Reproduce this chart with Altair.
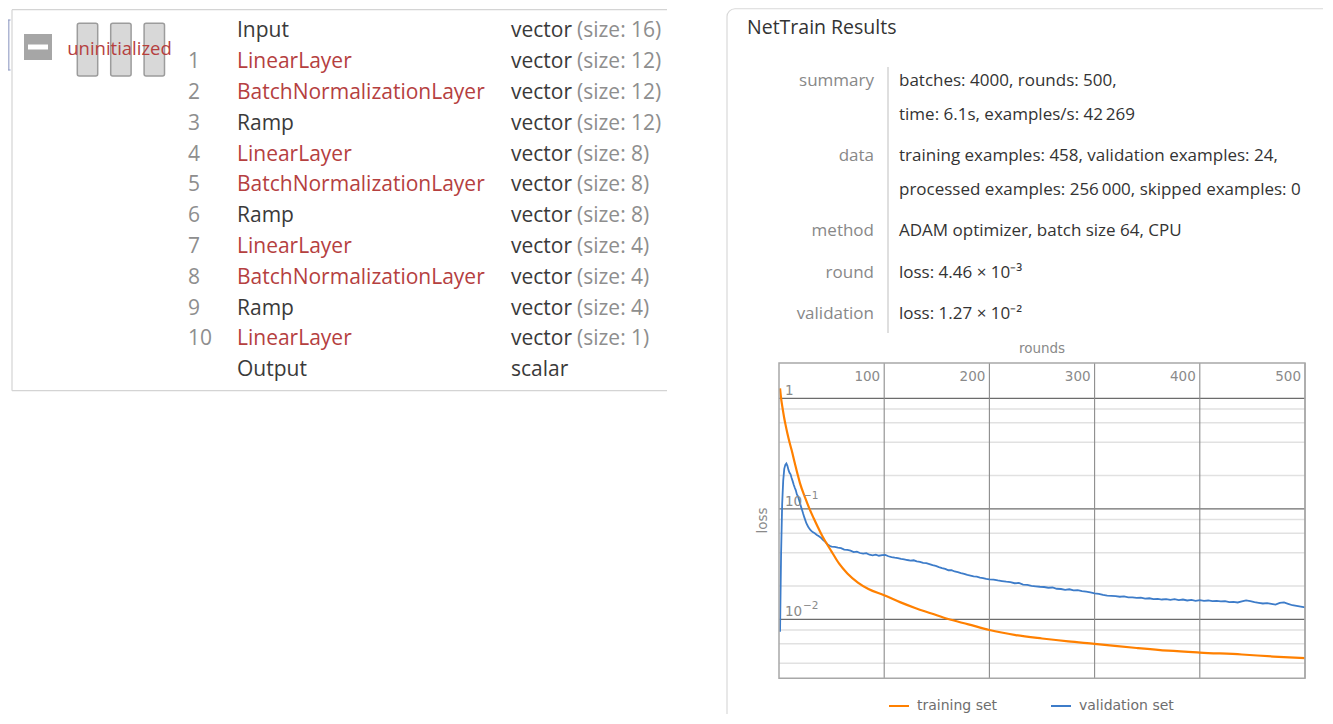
import altair as alt
import pandas as pd

# ---------------- NetChain table ----------------
row_numbers = ["", "1", "2", "3", "4", "5", "6", "7", "8", "9", "10", ""]
layer_names = ["Input", "LinearLayer", "BatchNormalizationLayer", "Ramp",
               "LinearLayer", "BatchNormalizationLayer", "Ramp",
               "LinearLayer", "BatchNormalizationLayer", "Ramp",
               "LinearLayer", "Output"]
port_types = ["vector"] * 11 + ["scalar"]
port_sizes = ["(size: 16)", "(size: 12)", "(size: 12)", "(size: 12)",
              "(size: 8)", "(size: 8)", "(size: 8)",
              "(size: 4)", "(size: 4)", "(size: 4)",
              "(size: 1)", ""]

# ---------------- NetTrain summary ----------------
panel_title = "NetTrain Results"
info_labels = ["summary", "data", "method", "round", "validation"]
info_first_line = [0, 2, 4, 5, 6]
info_lines = ["batches: 4000, rounds: 500,",
              "time: 6.1s, examples/s: 42\u2009269",
              "training examples: 458, validation examples: 24,",
              "processed examples: 256\u2009000, skipped examples: 0",
              "ADAM optimizer, batch size 64, CPU",
              "loss: 4.46 \u00d7 10\u207b\u00b3",
              "loss: 1.27 \u00d7 10\u207b\u00b2"]
info_line_group = [0, 0, 1, 1, 2, 3, 4]

# ---------------- loss curves ----------------
train_rounds = [1, 2, 3, 4, 5, 6, 8, 10, 12, 15, 18, 20, 25, 29, 33, 37, 41, 45,
                50, 57, 65, 75, 85, 100, 115, 130, 145, 160, 180, 200, 225, 250,
                275, 300, 340, 370, 400, 440, 470, 500]
train_loss = [1.23, 1.0, 0.86, 0.75, 0.66, 0.59, 0.48, 0.40, 0.34, 0.26, 0.20,
              0.17, 0.125, 0.10, 0.082, 0.068, 0.057, 0.049, 0.041, 0.032,
              0.026, 0.0215, 0.0188, 0.0165, 0.0143, 0.0126, 0.0113, 0.0101,
              0.0090, 0.0080, 0.0072, 0.0067, 0.0063, 0.0060, 0.0055, 0.0052,
              0.0050, 0.0048, 0.0046, 0.00446]

val_rounds = [1, 2, 3, 4, 5, 6, 7, 8, 9, 10, 11, 12, 13, 14, 15, 16, 17, 18, 19,
              20, 21, 22, 23, 24, 25, 26, 27, 28, 29, 30, 32, 34, 36, 38, 40,
              42, 44, 46, 48, 50, 53, 56, 59, 62, 65, 68, 71, 74, 77, 80, 83,
              86, 89, 92, 95, 98, 101, 104, 107, 110, 113, 116, 119, 122, 125,
              128, 131, 134, 137, 140, 143, 146, 149, 152, 155, 158, 161, 164,
              167, 170, 173, 176, 179, 182, 185, 188, 191, 194, 197, 200, 204,
              208, 212, 216, 220, 224, 228, 232, 236, 240, 244, 248, 252, 256,
              260, 264, 268, 272, 276, 280, 284, 288, 292, 296, 300, 304, 308,
              312, 316, 320, 324, 328, 332, 336, 340, 344, 348, 352, 356, 360,
              364, 368, 372, 376, 380, 384, 388, 392, 396, 400, 404, 408, 412,
              416, 420, 424, 428, 432, 436, 440, 444, 448, 452, 456, 460, 464,
              468, 472, 476, 480, 484, 488, 492, 496, 500]
val_loss = [0.0077, 0.04, 0.11, 0.18, 0.23, 0.25, 0.257, 0.245, 0.225, 0.212,
            0.205, 0.19, 0.178, 0.165, 0.155, 0.147, 0.135, 0.13, 0.121, 0.112,
            0.104, 0.097, 0.09, 0.084, 0.079, 0.074, 0.071, 0.068, 0.066, 0.064,
            0.0615, 0.060, 0.058, 0.0565, 0.0545, 0.052, 0.0502, 0.0478, 0.0463,
            0.0455, 0.0452, 0.0446, 0.0441, 0.0428, 0.0424, 0.0418, 0.0406,
            0.041, 0.0398, 0.0393, 0.0397, 0.0384, 0.0379, 0.0385, 0.0376,
            0.0381, 0.0383, 0.0372, 0.0366, 0.0361, 0.0357, 0.0352, 0.0349,
            0.0344, 0.034, 0.0342, 0.0334, 0.0331, 0.0324, 0.0322, 0.0316,
            0.0309, 0.0304, 0.0297, 0.0291, 0.0286, 0.0278, 0.0279, 0.0271,
            0.0267, 0.0262, 0.0258, 0.0252, 0.0249, 0.0245, 0.0243, 0.0238,
            0.0236, 0.0232, 0.023, 0.0229, 0.0225, 0.0222, 0.0219, 0.0217,
            0.0212, 0.0213, 0.0206, 0.0205, 0.0201, 0.0199, 0.0197, 0.0196,
            0.0193, 0.0194, 0.0189, 0.0188, 0.0185, 0.0187, 0.0183, 0.0184,
            0.018, 0.0178, 0.0175, 0.0172, 0.017, 0.0166, 0.0164, 0.0163,
            0.0162, 0.016, 0.0161, 0.0158, 0.0158, 0.0156, 0.0157, 0.0154,
            0.0155, 0.0152, 0.0153, 0.0151, 0.0152, 0.015, 0.0152, 0.0149,
            0.0151, 0.0148, 0.015, 0.0147, 0.0149, 0.0147, 0.0148, 0.0146,
            0.0147, 0.0145, 0.0146, 0.0143, 0.0144, 0.0142, 0.0145, 0.0148,
            0.0146, 0.0143, 0.0141, 0.0139, 0.014, 0.0138, 0.0136, 0.0141,
            0.0142, 0.0138, 0.0134, 0.0132, 0.013, 0.0128]

series_names = ["training set", "validation set"]
series_colors = ["#ff8000", "#3d7cc9"]

x_ticks = [100, 200, 300, 400, 500]
y_major = [1, 0.1, 0.01]
y_major_base = ["1", "10", "10"]
y_major_exp = ["", "\u22121", "\u22122"]
y_minor = [0.8, 0.6, 0.4, 0.2, 0.08, 0.06, 0.04, 0.02, 0.008, 0.006, 0.004]

# ---------------- styling ----------------
W, H = 1315, 706
UI_FONT = "Open Sans"
PLOT_FONT = "DejaVu Sans"
RED = "#b5403f"
DARK = "#3a3a3a"
GREY = "#8e8e8e"
AXIS_GREY = "#8a8a8a"

one = pd.DataFrame({"k": [0]})


def box(x, x2, y, y2, **kw):
    return alt.Chart(one).mark_rect(**kw).encode(
        x=alt.value(x), x2=alt.value(x2), y=alt.value(y), y2=alt.value(y2))


def rule(x, x2, y, y2, **kw):
    return alt.Chart(one).mark_rule(**kw).encode(
        x=alt.value(x), x2=alt.value(x2), y=alt.value(y), y2=alt.value(y2))


def label(text, x, y, **kw):
    return alt.Chart(one).mark_text(text=text, **kw).encode(
        x=alt.value(x), y=alt.value(y))


layers = []

# ---- left NetChain panel decorations ----
layers += [
    rule(4, 659, 1.7, 1.7, color="#d4d4d4", strokeWidth=1.2),
    rule(4, 4, 1.7, 382.7, color="#d4d4d4", strokeWidth=1.2),
    rule(4, 659, 382.7, 382.7, color="#d4d4d4", strokeWidth=1.2),
    rule(0.8, 0.8, 12, 62, color="#9aa4c8", strokeWidth=1.2),
    rule(0, 2.5, 12, 12, color="#9aa4c8", strokeWidth=1.2),
    rule(0, 2.5, 62, 62, color="#9aa4c8", strokeWidth=1.2),
    box(16, 44, 26, 52, color="#a6a6a6"),
    box(20, 40, 36.5, 41.5, color="#ffffff"),
]
for i in range(3):
    x0 = 69.3 + 33.4 * i
    layers.append(box(x0, x0 + 20.4, 15.3, 68, fill="#d8d8d8", stroke="#9c9c9c",
                      strokeWidth=1.5, cornerRadius=2))
layers.append(label("uninitialized", 111.5, 46.5, align="center", baseline="alphabetic",
                    font=UI_FONT, fontSize=18.5, color=RED))

# ---- NetChain table ----
table = pd.DataFrame({"row": list(range(len(layer_names))), "num": row_numbers,
                      "name": layer_names, "ptype": port_types, "psize": port_sizes})
TY = alt.Scale(domain=[0, 11], range=[29.3, 368.1], nice=False, zero=False)


def table_col(field, x, color):
    return alt.Chart(table).mark_text(
        align="left", baseline="alphabetic", font=UI_FONT, fontSize=21).encode(
        x=alt.value(x), y=alt.Y("row:Q", scale=TY, axis=None),
        text=f"{field}:N", color=color)


layers += [
    table_col("num", 180, alt.value(GREY)),
    table_col("name", 229, alt.condition("indexof(datum.name, 'Layer') >= 0",
                                         alt.value(RED), alt.value(DARK))),
    table_col("ptype", 503, alt.value(DARK)),
    table_col("psize", 569, alt.value(GREY)),
]

# ---- NetTrain panel ----
layers.append(box(719, 1340, 0.75, 760, fill="#ffffff", fillOpacity=0,
                  stroke="#d9d9d9", strokeWidth=1.2, cornerRadius=8))
layers.append(label(panel_title, 739, 26, align="left", baseline="alphabetic",
                    font=UI_FONT, fontSize=19.5, color="#333333"))
layers.append(rule(880, 880, 59, 325, color="#d4d4d4", strokeWidth=1.5))

INFO_Y = "78 + 41.5 * datum.group + 33.5 * (datum.line - datum.group)"
info_df = pd.DataFrame({"line": list(range(len(info_lines))), "text": info_lines,
                        "group": info_line_group})
lab_df = pd.DataFrame({"line": info_first_line, "text": info_labels,
                       "group": list(range(len(info_labels)))})
layers.append(alt.Chart(info_df).transform_calculate(yb=INFO_Y).mark_text(
    align="left", baseline="alphabetic", font=UI_FONT, fontSize=17, color="#333333").encode(
    x=alt.value(891), y=alt.Y("yb:Q", scale=None, axis=None), text="text:N"))
layers.append(alt.Chart(lab_df).transform_calculate(yb=INFO_Y).mark_text(
    align="right", baseline="alphabetic", font=UI_FONT, fontSize=17, color="#888888").encode(
    x=alt.value(866), y=alt.Y("yb:Q", scale=None, axis=None), text="text:N"))

# ---- loss plot ----
X_LO, X_HI = 0, 500
Y_LO, Y_HI = 0.002924, 2.087
XS = alt.Scale(domain=[X_LO, X_HI], range=[771, 1297], nice=False, zero=False)
YS = alt.Scale(type="log", domain=[Y_LO, Y_HI], range=[670.3, 355], nice=False)


def hgrid(values, color, width):
    return alt.Chart(pd.DataFrame({"v": values})).transform_calculate(
        a=str(X_LO), b=str(X_HI)).mark_rule(color=color, strokeWidth=width).encode(
        x=alt.X("a:Q", scale=XS, axis=None), x2="b:Q",
        y=alt.Y("v:Q", scale=YS, axis=None))


layers.append(hgrid(y_minor, "#e1e1e1", 1.5))
layers.append(hgrid(y_major, "#6c6c6c", 1.2))
layers.append(alt.Chart(pd.DataFrame({"t": x_ticks})).transform_calculate(
    a=str(Y_LO), b=str(Y_HI)).mark_rule(color="#8c8c8c", strokeWidth=1.1).encode(
    x=alt.X("t:Q", scale=XS, axis=None),
    y=alt.Y("a:Q", scale=YS, axis=None), y2="b:Q"))

loss_df = pd.DataFrame({
    "round": train_rounds + val_rounds,
    "loss": train_loss + val_loss,
    "series": [series_names[0]] * len(train_rounds) + [series_names[1]] * len(val_rounds),
})
LEG = alt.Legend(title=None, orient="none", legendX=880, legendY=687,
                 direction="horizontal", symbolType="stroke", symbolSize=400,
                 symbolStrokeWidth=2, labelFont=PLOT_FONT, labelFontSize=14,
                 labelColor="#6e6e6e", columnPadding=49, labelOffset=7, padding=0)
COLOR = alt.Color("series:N", scale=alt.Scale(domain=series_names, range=series_colors),
                  legend=LEG)


def curve(name, interp, width):
    return alt.Chart(loss_df).transform_filter(
        alt.datum.series == name).mark_line(strokeWidth=width, interpolate=interp).encode(
        x=alt.X("round:Q", scale=XS, axis=None),
        y=alt.Y("loss:Q", scale=YS, axis=None),
        color=COLOR, order="round:Q")


layers.append(curve(series_names[1], "linear", 1.8))
layers.append(curve(series_names[0], "monotone", 2.2))

layers.append(alt.Chart(one).transform_calculate(
    a=str(X_LO), b=str(X_HI), c=str(Y_LO), d=str(Y_HI)).mark_rect(
    fillOpacity=0, stroke="#a8a8a8", strokeWidth=1.5).encode(
    x=alt.X("a:Q", scale=XS, axis=None), x2="b:Q",
    y=alt.Y("c:Q", scale=YS, axis=None), y2="d:Q"))

layers.append(alt.Chart(pd.DataFrame({"t": x_ticks})).mark_text(
    align="right", baseline="alphabetic", dx=-4, font=PLOT_FONT, fontSize=13.5,
    color=AXIS_GREY).encode(
    x=alt.X("t:Q", scale=XS, axis=None), y=alt.value(373),
    text=alt.Text("t:Q", format="d")))
ylab_df = pd.DataFrame({"v": y_major, "base": y_major_base, "exp": y_major_exp})
layers.append(alt.Chart(ylab_df).transform_calculate(a=str(X_LO)).mark_text(
    align="left", baseline="alphabetic", dx=6, dy=-3, font=PLOT_FONT, fontSize=13.5,
    color=AXIS_GREY).encode(
    x=alt.X("a:Q", scale=XS, axis=None), y=alt.Y("v:Q", scale=YS, axis=None),
    text="base:N"))
layers.append(alt.Chart(ylab_df).transform_calculate(a=str(X_LO)).mark_text(
    align="left", baseline="alphabetic", dx=24, dy=-10, font=PLOT_FONT, fontSize=10.5,
    color=AXIS_GREY).encode(
    x=alt.X("a:Q", scale=XS, axis=None), y=alt.Y("v:Q", scale=YS, axis=None),
    text="exp:N"))
layers.append(label("rounds", 1034, 345, align="center", baseline="alphabetic",
                    font=PLOT_FONT, fontSize=13.5, color=AXIS_GREY))
layers.append(label("loss", 755, 512.5, align="center", baseline="middle", angle=270,
                    font=PLOT_FONT, fontSize=13.5, color=AXIS_GREY))

chart = alt.layer(*layers).properties(
    width=W, height=H, autosize=alt.AutoSizeParams(type="none"), padding=0,
    background="#ffffff",
).resolve_scale(x="independent", y="independent").configure_view(stroke=None)

chart.save("out.html", embed_options={"renderer": "svg", "actions": False})
